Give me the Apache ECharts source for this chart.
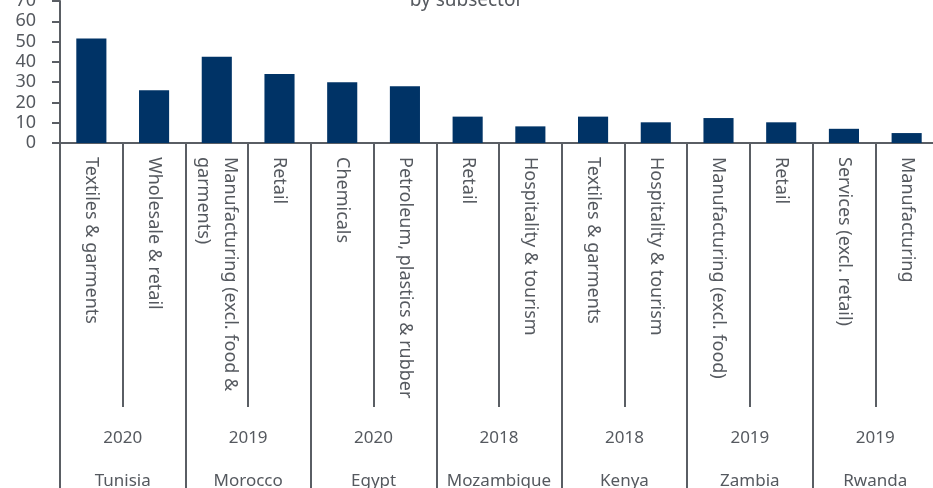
<!DOCTYPE html>
<html>
<head>
<meta charset="utf-8">
<script src="https://cdn.jsdelivr.net/npm/echarts@6/dist/echarts.min.js"></script>
<style>
  html, body { margin: 0; padding: 0; background: #fff; }
  #chart { width: 933px; height: 488px; }
</style>
</head>
<body>
<div id="chart"></div>
<script>
// subsectors (bottom level is country, middle is survey year)
var subsectors = [
  'Textiles & garments', 'Wholesale & retail',
  'Manufacturing (excl. food &\ngarments)', 'Retail',
  'Chemicals', 'Petroleum, plastics & rubber',
  'Retail', 'Hospitality & tourism',
  'Textiles & garments', 'Hospitality & tourism',
  'Manufacturing (excl. food)', 'Retail',
  'Services (excl. retail)', 'Manufacturing'
];
var values = [51.5, 26, 42.5, 34, 30, 28, 13, 8.2, 13, 10.2, 12.3, 10.2, 7, 4.9];
var years = ['2020', '2019', '2020', '2018', '2018', '2019', '2019'];
var countries = ['Tunisia', 'Morocco', 'Egypt', 'Mozambique', 'Kenya', 'Zambia', 'Rwanda'];
var yTicks = [0, 70, 10]; // min, max, step

var gray = '#5a5e64';
var txt = '#55595f';
var font = 'Noto Sans';

var myChart = echarts.init(document.getElementById('chart'));

var option = {
  animation: false,
  // only the bottom of the title survives the crop
  title: {
    text: 'by subsector',
    left: 'center',
    top: -9,
    padding: 0,
    textStyle: { color: txt, fontFamily: font, fontSize: 19, fontWeight: 'normal' }
  },
  grid: {
    left: 60, top: 1, width: 878, bottom: 345,
    containLabel: false, outerBoundsMode: 'none'
  },
  yAxis: {
    type: 'value',
    min: yTicks[0],
    max: yTicks[1],
    interval: yTicks[2],
    axisLine: { show: true, lineStyle: { color: gray, width: 2 } },
    axisTick: { show: true, length: 8, lineStyle: { color: gray, width: 2 } },
    axisLabel: {
      color: txt, fontFamily: font, fontSize: 18, margin: 24,
      verticalAlignMaxLabel: 'middle'
    },
    splitLine: { show: false }
  },
  xAxis: [
    {
      type: 'category',
      data: subsectors,
      position: 'bottom',
      axisLine: { show: true, lineStyle: { color: gray, width: 2 } },
      axisTick: { show: true, interval: 0, length: 264, lineStyle: { color: gray, width: 2 } },
      axisLabel: {
        interval: 0, rotate: -90, margin: 14,
        color: txt, fontFamily: font, fontSize: 18, lineHeight: 27
      }
    },
    {
      // survey year row
      type: 'category',
      data: years,
      position: 'bottom',
      gridIndex: 0,
      axisLine: { show: false },
      axisTick: { show: false },
      axisLabel: { interval: 0, margin: 287, color: txt, fontFamily: font, fontSize: 17 }
    },
    {
      // country row, long dividers run to the bottom
      type: 'category',
      data: countries,
      position: 'bottom',
      gridIndex: 0,
      axisLine: { show: false },
      axisTick: { show: true, interval: 0, length: 350, lineStyle: { color: gray, width: 2 } },
      axisLabel: { interval: 0, margin: 330, color: txt, fontFamily: font, fontSize: 17 }
    }
  ],
  series: [{
    type: 'bar',
    xAxisIndex: 0,
    data: values,
    barWidth: '48%',
    itemStyle: { color: '#003366' }
  }]
};
myChart.setOption(option);
</script>
</body>
</html>
